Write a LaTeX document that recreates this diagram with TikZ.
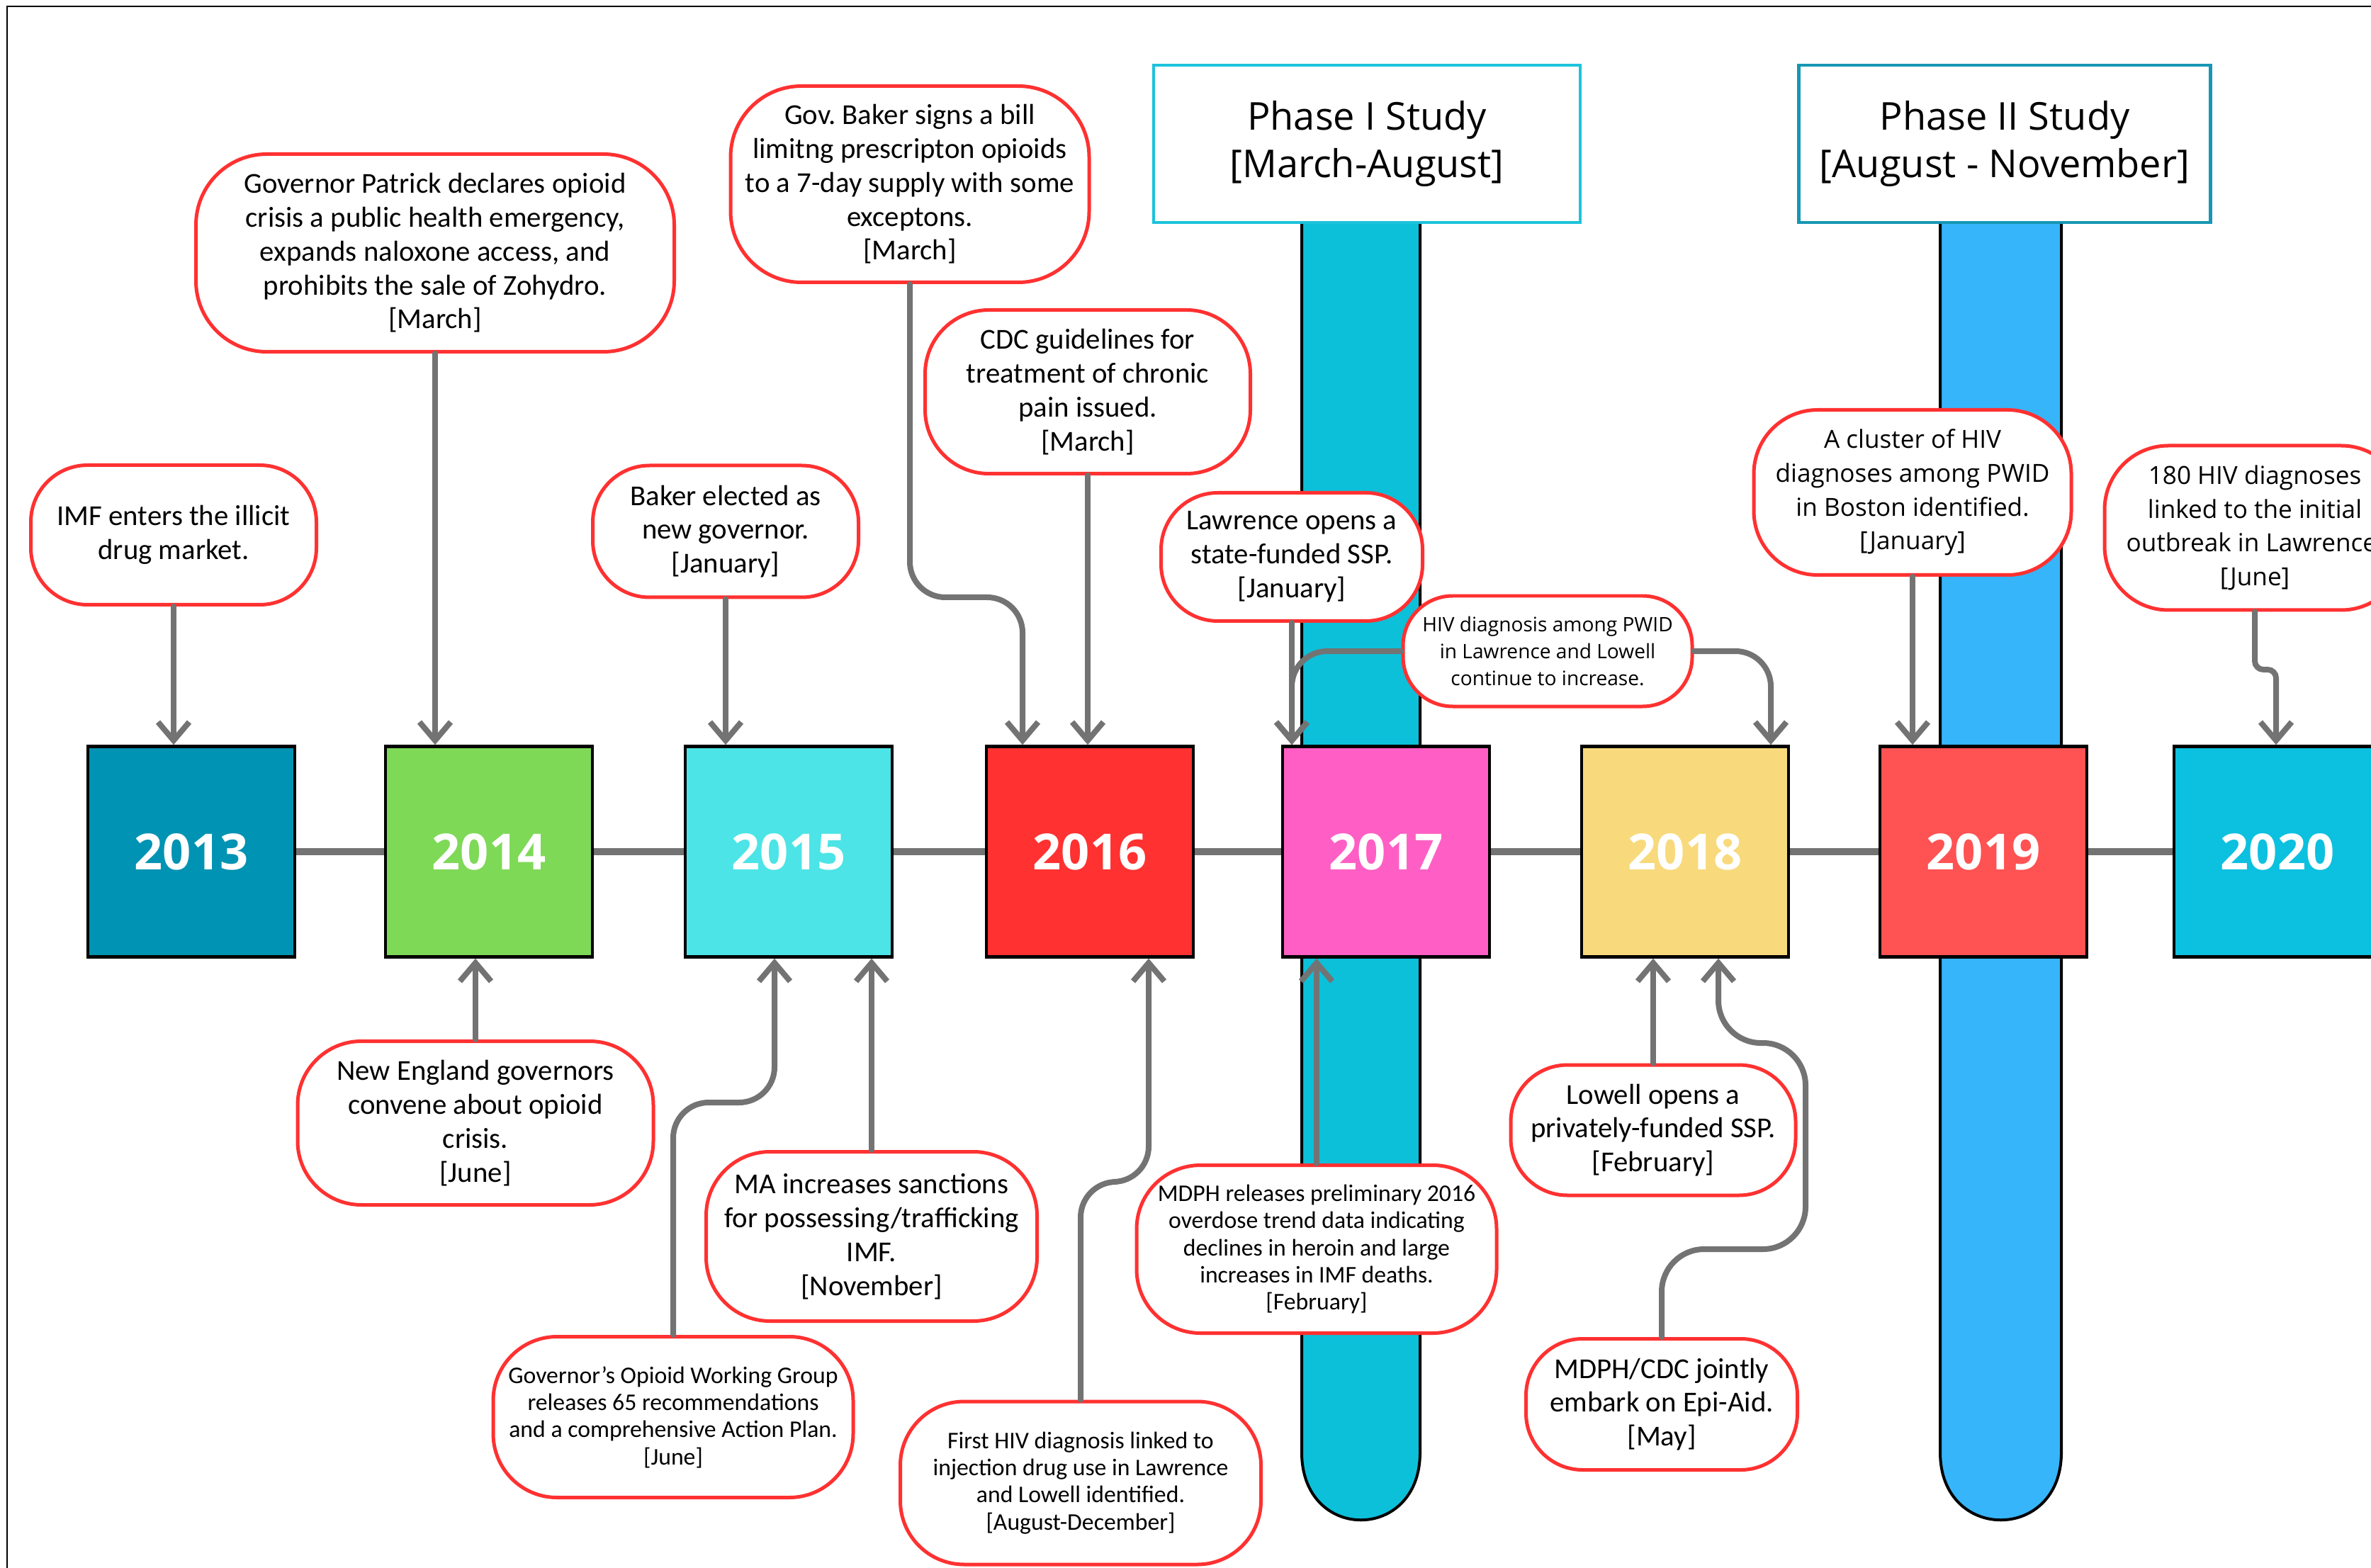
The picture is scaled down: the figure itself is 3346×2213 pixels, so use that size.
\documentclass[tikz,border=0pt]{standalone}
\usepackage{fontspec}
\setmainfont{Carlito}
\newfontfamily\osans{Open Sans}
\usetikzlibrary{arrows.meta}

\definecolor{evred}{HTML}{FF3131}
\definecolor{linegray}{HTML}{737373}
\definecolor{c2013}{HTML}{0093B3}
\definecolor{c2014}{HTML}{7ED957}
\definecolor{c2015}{HTML}{4CE4E6}
\definecolor{c2016}{HTML}{FF3131}
\definecolor{c2017}{HTML}{FF5FC4}
\definecolor{c2018}{HTML}{F8DA7C}
\definecolor{c2019}{HTML}{FF5252}
\definecolor{c2020}{HTML}{0CC0DF}
\definecolor{phaseonebar}{HTML}{0CC0DA}
\definecolor{phasetwobar}{HTML}{36B5FA}
\definecolor{phaseoneline}{HTML}{1CC3DB}
\definecolor{phasetwoline}{HTML}{1797B3}

\begin{document}
\begin{tikzpicture}[x=0.1mm, y=-0.1mm,
    year/.style={draw=black, line width=0.45mm, minimum width=29.2mm, minimum height=29.7mm, inner sep=0pt, text=white, font=\osans\bfseries\fontsize{20}{20}\selectfont},
    event/.style={draw=evred, line width=0.5mm, fill=white, rounded corners=8mm, align=center, inner sep=0pt, font=\fontsize{11.6}{13.6}\selectfont},
    smalltext/.style={font=\fontsize{9.6}{10.9}\selectfont},
    sanstext/.style={font=\osans\fontsize{10}{13.6}\selectfont},
    phase/.style={line width=0.45mm, fill=white, align=center, minimum height=22.2mm, font=\osans\fontsize{15.4}{19.3}\selectfont},
    conn/.style={draw=linegray, line width=0.8mm, line cap=round, rounded corners=5mm, -{Straight Barb[length=2.6mm, width=4.4mm]}},
    link/.style={draw=linegray, line width=1mm}]

    \useasboundingbox (0,0) rectangle (3346,2213);
    \clip (0,0) rectangle (3346,2213);

    % Frame
    \draw[line width=0.2mm] (10,2213) -- (10,9) -- (3346,9);

    % Phase bars
    \filldraw[fill=phaseonebar, line width=0.4mm] (1837,314) -- (1837,2050) .. controls (1837,2177) and (2004,2177) .. (2004,2050) -- (2004,314);
    \filldraw[fill=phasetwobar, line width=0.4mm] (2738,314) -- (2738,2050) .. controls (2738,2177) and (2909,2177) .. (2909,2050) -- (2909,314);

    % Draw years
    \node[year, fill=c2013] (y13) at (270,1202) {2013};
    \node[year, fill=c2014] (y14) at (690,1202) {2014};
    \node[year, fill=c2015] (y15) at (1113,1202) {2015};
    \node[year, fill=c2016] (y16) at (1538,1202) {2016};
    \node[year, fill=c2017] (y17) at (1956,1202) {2017};
    \node[year, fill=c2018] (y18) at (2378,1202) {2018};
    \node[year, fill=c2019] (y19) at (2799,1202) {2019};
    \node[year, fill=c2020] (y20) at (3214,1202) {2020};

    % Timeline
    \draw[link] (y13) -- (y14);
    \draw[link] (y14) -- (y15);
    \draw[link] (y15) -- (y16);
    \draw[link] (y16) -- (y17);
    \draw[link] (y17) -- (y18);
    \draw[link] (y18) -- (y19);
    \draw[link] (y19) -- (y20);

    % Phases
    \node[phase, draw=phaseoneline, minimum width=60.2mm] (p1) at (1929,203) {Phase I Study\\{[March-August]}};
    \node[phase, draw=phasetwoline, minimum width=58.1mm] (p2) at (2829,203) {Phase II Study\\{[August - November]}};

    % Events above the timeline
    \node[event, minimum width=40.3mm, minimum height=19.7mm] (e1) at (245,755) {IMF enters the illicit\\drug market.};
    \node[event, rounded corners=10mm, minimum width=67.5mm, minimum height=27.9mm] (e2) at (614,357) {Governor Patrick declares opioid\\crisis a public health emergency,\\expands naloxone access, and\\prohibits the sale of Zohydro.\\{[March]}};
    \node[event, minimum width=37.5mm, minimum height=18.6mm] (e3) at (1024,750) {Baker elected as\\new governor.\\{[January]}};
    \node[event, rounded corners=10mm, minimum width=50.6mm, minimum height=27.7mm] (e4) at (1284,260) {Gov.\ Baker signs a bill\\limitng prescripton opioids\\to a 7-day supply with some\\exceptons.\\{[March]}};
    \node[event, rounded corners=9mm, minimum width=45.9mm, minimum height=23.1mm] (e5) at (1535,553) {CDC guidelines for\\treatment of chronic\\pain issued.\\{[March]}};
    \node[event, minimum width=36.9mm, minimum height=18.1mm] (e6) at (1823,786) {Lawrence opens a\\state-funded SSP.\\{[January]}};
    \node[event, rounded corners=7mm, minimum width=40.8mm, minimum height=15.6mm, font=\osans\fontsize{8}{10.9}\selectfont] (e7) at (2184,919) {HIV diagnosis among PWID\\in Lawrence and Lowell\\continue to increase.};
    \node[event, sanstext, rounded corners=9mm, minimum width=44.8mm, minimum height=23.3mm] (e8) at (2699,695) {A cluster of HIV\\diagnoses among PWID\\in Boston identified.\\{[January]}};
    \node[event, sanstext, rounded corners=9mm, minimum width=42.4mm, minimum height=23.2mm] (e9) at (3182,745) {180 HIV diagnoses\\linked to the initial\\outbreak in Lawrence.\\{[June]}};

    % Events below the timeline
    \node[event, rounded corners=9mm, minimum width=50.2mm, minimum height=23.1mm] (e10) at (671,1585) {New England governors\\convene about opioid\\crisis.\\{[June]}};
    \node[event, smalltext, rounded corners=9mm, minimum width=50.8mm, minimum height=22.7mm] (e11) at (950,2000) {Governor's Opioid Working Group\\releases 65 recommendations\\and a comprehensive Action Plan.\\{[June]}};
    \node[event, rounded corners=9mm, minimum width=46.7mm, minimum height=23.9mm] (e12) at (1230,1745) {MA increases sanctions\\for possessing/trafficking\\IMF.\\{[November]}};
    \node[event, smalltext, rounded corners=9mm, minimum width=50.9mm, minimum height=23mm] (e13) at (1525,2093) {First HIV diagnosis linked to\\injection drug use in Lawrence\\and Lowell identified.\\{[August-December]}};
    \node[event, smalltext, rounded corners=9mm, minimum width=50.8mm, minimum height=23.7mm] (e14) at (1858,1763) {MDPH releases preliminary 2016\\overdose trend data indicating\\declines in heroin and large\\increases in IMF deaths.\\{[February]}};
    \node[event, minimum width=40.2mm, minimum height=18.4mm] (e15) at (2333,1595) {Lowell opens a\\privately-funded SSP.\\{[February]}};
    \node[event, minimum width=38.3mm, minimum height=18.5mm] (e16) at (2345,1982) {MDPH/CDC jointly\\embark on Epi-Aid.\\{[May]}};

    % Bends
    \coordinate (k4) at (1443,843);
    \coordinate (k7) at (2499,919);
    \coordinate (k9) at (3212,945);
    \coordinate (k11) at (1093,1556);
    \coordinate (k13) at (1621,1668);
    \coordinate (k16a) at (2548,1763);
    \coordinate (k16b) at (2425,1472);

    % Draw arrows
    \draw[conn] (e1.south) -- (e1.south |- y13.north);
    \draw[conn] (e2.south) -- (e2.south |- y14.north);
    \draw[conn] (e3.south) -- (e3.south |- y15.north);
    \draw[conn] (e4.south) |- (k4) -- (k4 |- y16.north);
    \draw[conn] (e5.south) -- (e5.south |- y16.north);
    \draw[conn] (e6.south) -- (e6.south |- y17.north);
    \draw[conn] (e7.west) -| (e6.south |- y17.north);
    \draw[conn] (e7.east) -- (k7) -- (k7 |- y18.north);
    \draw[conn] (e8.south) -- (e8.south |- y19.north);
    \draw[conn, rounded corners=1.2mm] (e9.south) |- (k9) -- (k9 |- y20.north);
    \draw[conn] (e10.north) -- (e10.north |- y14.south);
    \draw[conn] (e11.north) |- (k11) -- (k11 |- y15.south);
    \draw[conn] (e12.north) -- (e12.north |- y15.south);
    \draw[conn] (e13.north) |- (k13) -- (k13 |- y16.south);
    \draw[conn] (e14.north) -- (e14.north |- y17.south);
    \draw[conn] (e15.north) -- (e15.north |- y18.south);
    \draw[conn, rounded corners=6mm] (e16.north) |- (k16a) |- (k16b) -- (k16b |- y18.south);
\end{tikzpicture}
\end{document}
